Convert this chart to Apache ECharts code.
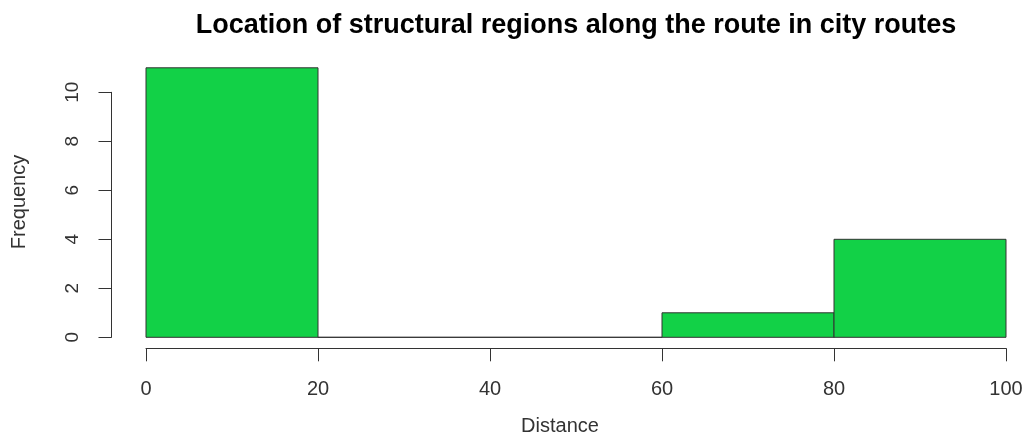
<!DOCTYPE html>
<html>
<head>
<meta charset="utf-8">
<script src="https://cdn.jsdelivr.net/npm/echarts@6/dist/echarts.min.js"></script>
<style>
  html, body { margin: 0; padding: 0; background: #fff; }
  #chart { width: 1029px; height: 437px; }
</style>
</head>
<body>
<div id="chart"></div>
<script>
// Histogram bins: distance along route (break points) and counts per bin
const binStarts = [0, 20, 40, 60, 80];
const binEnds = [20, 40, 60, 80, 100];
const counts = [11, 0, 0, 1, 4];
const xTicks = [0, 20, 40, 60, 80, 100];
const yTicks = [0, 2, 4, 6, 8, 10];

const titleText = 'Location of structural regions along the route in city routes';
const xLabel = 'Distance';
const yLabel = 'Frequency';

const FONT = '"Liberation Sans", Arial, sans-serif';
const INK = '#333';

const bins = binStarts.map((s, i) => [s, binEnds[i], counts[i]]);

const chart = echarts.init(document.getElementById('chart'), null, { renderer: 'canvas' });

chart.setOption({
  animation: false,
  backgroundColor: '#fff',
  grid: [
    // plotting area for the bars (0..11)
    { left: 146, right: 23, top: 67.8, bottom: 99.7 },
    // axis frame for the y ticks (0..10)
    { left: 146, right: 23, top: 92.3, bottom: 99.7 }
  ],
  xAxis: [
    {
      gridIndex: 0, type: 'value', min: 0, max: 100, interval: 20,
      offset: 11,
      splitLine: { show: false },
      axisLine: { show: true, onZero: false, lineStyle: { color: INK, width: 1 } },
      axisTick: { show: true, length: 13, lineStyle: { color: INK, width: 1 } },
      axisLabel: { margin: 31, fontSize: 20, color: INK, fontFamily: FONT,
                   customValues: xTicks },
    },
    { gridIndex: 1, type: 'value', min: 0, max: 100, show: false }
  ],
  yAxis: [
    { gridIndex: 0, type: 'value', min: 0, max: 11, show: false },
    {
      gridIndex: 1, type: 'value', min: 0, max: 10, interval: 2,
      offset: 34.5,
      splitLine: { show: false },
      axisLine: { show: true, onZero: false, lineStyle: { color: INK, width: 1 } },
      axisTick: { show: true, length: 13, lineStyle: { color: INK, width: 1 } },
      axisLabel: { margin: 29, rotate: 90, fontSize: 19, color: INK, fontFamily: FONT,
                   customValues: yTicks }
    }
  ],
  graphic: [
    {
      type: 'text', x: 576, y: 26,
      style: { text: titleText, font: 'bold 27px ' + FONT, fill: '#000',
               textAlign: 'center', textVerticalAlign: 'middle' }
    },
    {
      type: 'text', x: 560, y: 426,
      style: { text: xLabel, font: '20px ' + FONT, fill: INK,
               textAlign: 'center', textVerticalAlign: 'middle' }
    },
    {
      type: 'text', x: 19, y: 202, rotation: Math.PI / 2,
      style: { text: yLabel, font: '20px ' + FONT, fill: INK,
               textAlign: 'center', textVerticalAlign: 'middle' }
    }
  ],
  series: [
    {
      type: 'custom',
      xAxisIndex: 0, yAxisIndex: 0,
      clip: false,
      data: bins,
      encode: { x: [0, 1], y: 2 },
      renderItem: function (params, api) {
        const p0 = api.coord([api.value(0), 0]);
        const p1 = api.coord([api.value(1), api.value(2)]);
        return {
          type: 'rect',
          shape: { x: p0[0], y: p1[1], width: p1[0] - p0[0], height: p0[1] - p1[1] },
          style: { fill: '#12D147', stroke: '#333', lineWidth: 1 }
        };
      }
    }
  ]
});
</script>
</body>
</html>
